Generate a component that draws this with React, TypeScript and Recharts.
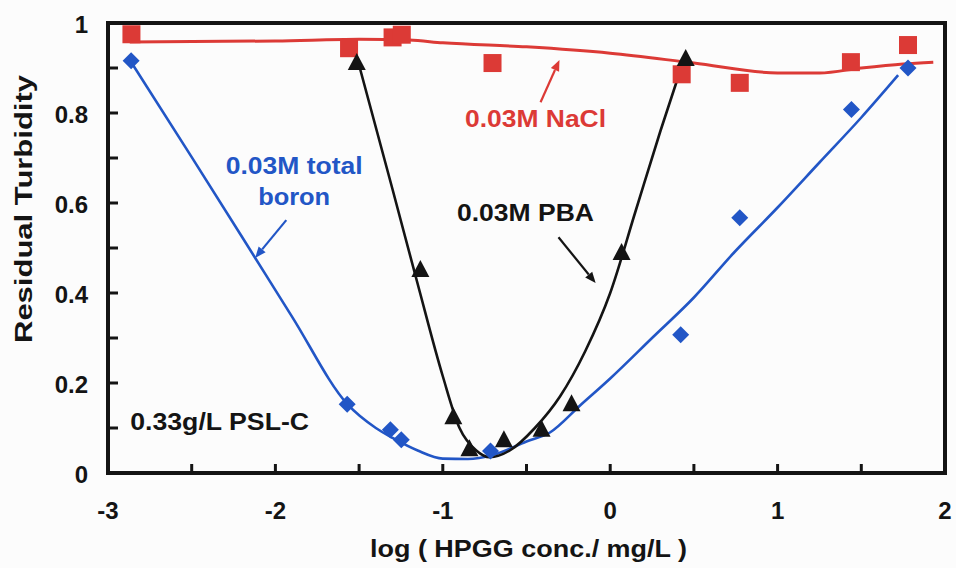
import React from 'react';
import { ComposedChart, Line, Scatter, XAxis, YAxis, ReferenceLine, ReferenceDot, ReferenceArea, Label } from 'recharts';

const FONT = '"Liberation Sans", Arial, Helvetica, sans-serif';
const RED = '#dc3a36';
const BLUE = '#2256c6';
const INK = '#141414';

// measured points (log conc vs residual turbidity)
const naclX = [-2.86, -1.56, -1.3, -1.245, -0.703, 0.427, 0.774, 1.438, 1.779];
const naclY = [0.975, 0.944, 0.968, 0.974, 0.911, 0.886, 0.867, 0.913, 0.951];

const boronX = [-2.862, -1.571, -1.313, -1.248, -0.715, 0.421, 0.774, 1.441, 1.779];
const boronY = [0.916, 0.153, 0.096, 0.074, 0.049, 0.307, 0.567, 0.808, 0.9];

const pbaX = [-1.514, -1.134, -0.937, -0.841, -0.635, -0.41, -0.231, 0.068, 0.451];
const pbaY = [0.911, 0.451, 0.124, 0.053, 0.073, 0.096, 0.153, 0.489, 0.92];

// fitted curves
const naclFitX = [-2.87, -2.0, -1.5, -1.2, -1.0, -0.5, 0, 0.5, 1.0, 1.25, 1.5, 1.75, 1.93];
const naclFitY = [0.958, 0.96, 0.964, 0.962, 0.956, 0.947, 0.933, 0.911, 0.889, 0.889, 0.9, 0.909, 0.913];

const boronFitX = [-2.87, -2.5, -2.2, -1.9, -1.57, -1.4, -1.3, -1.15, -1.0, -0.85, -0.7, -0.5, -0.36, -0.18, 0, 0.25, 0.5, 0.74, 1.0, 1.25, 1.5, 1.72];
const boronFitY = [0.918, 0.702, 0.525, 0.347, 0.153, 0.1, 0.078, 0.05, 0.032, 0.031, 0.04, 0.07, 0.09, 0.15, 0.21, 0.3, 0.39, 0.49, 0.59, 0.69, 0.79, 0.884];

const pbaFitX = [-1.51, -1.3, -1.15, -1.0, -0.9, -0.8, -0.72, -0.6, -0.45, -0.3, -0.15, 0, 0.15, 0.3, 0.45];
const pbaFitY = [0.92, 0.63, 0.42, 0.215, 0.1, 0.05, 0.035, 0.05, 0.1, 0.17, 0.27, 0.4, 0.58, 0.76, 0.93];

const xTicks = [-3, -2.5, -2, -1.5, -1, -0.5, 0, 0.5, 1, 1.5, 2];
const yTicks = [0, 0.1, 0.2, 0.3, 0.4, 0.5, 0.6, 0.7, 0.8, 0.9, 1];

const zip = (xs: number[], ys: number[]) => xs.map((x, i) => ({ x, y: ys[i] }));

const naclPts = zip(naclX, naclY);
const boronPts = zip(boronX, boronY);
const pbaPts = zip(pbaX, pbaY);
const naclFit = zip(naclFitX, naclFitY);
const boronFit = zip(boronFitX, boronFitY);
const pbaFit = zip(pbaFitX, pbaFitY);

// annotation text and arrows (data coords)
const notes = [
  { text: '0.03M NaCl', x: -0.446, y: 0.787, color: RED, len: 141 },
  { text: '0.03M total', x: -1.888, y: 0.682, color: BLUE, len: 137 },
  { text: 'boron', x: -1.888, y: 0.613, color: BLUE, len: 72 },
  { text: '0.03M PBA', x: -0.506, y: 0.578, color: INK, len: 137 },
  { text: '0.33g/L PSL-C', x: -2.333, y: 0.113, color: INK, len: 179 },
];
const arrows = [
  { from: [-0.416, 0.824], to: [-0.303, 0.918], color: RED },
  { from: [-1.935, 0.562], to: [-2.121, 0.478], color: BLUE },
  { from: [-0.309, 0.524], to: [-0.087, 0.422], color: INK },
];

const Square = (p: any) => <rect x={p.cx - 9} y={p.cy - 9} width={18} height={18} fill={RED} />;
const Diamond = (p: any) => (
  <polygon points={`${p.cx},${p.cy - 8.5} ${p.cx + 8.5},${p.cy} ${p.cx},${p.cy + 8.5} ${p.cx - 8.5},${p.cy}`} fill={BLUE} />
);
const Triangle = (p: any) => (
  <polygon points={`${p.cx},${p.cy - 10} ${p.cx + 9},${p.cy + 7} ${p.cx - 9},${p.cy + 7}`} fill={INK} />
);

const XTick = (p: any) => {
  const v = p.payload.value;
  return (
    <g>
      <line x1={p.x} y1={p.y} x2={p.x} y2={p.y - 9} stroke={INK} strokeWidth={3} />
      {Number.isInteger(v) && (
        <text x={p.x} y={p.y + 46} textAnchor="middle" fontFamily={FONT} fontWeight="bold" fontSize={24} fill={INK}>
          {String(v)}
        </text>
      )}
    </g>
  );
};

const YTick = (p: any) => {
  const v = p.payload.value;
  const major = Math.round(v * 10) % 2 === 0;
  return (
    <g>
      <line x1={p.x} y1={p.y} x2={p.x + 10} y2={p.y} stroke={INK} strokeWidth={3} />
      {major && (
        <text x={p.x - 20} y={p.y + 10} textAnchor="end" fontFamily={FONT} fontWeight="bold" fontSize={24} fill={INK}>
          {String(v)}
        </text>
      )}
    </g>
  );
};

const arrowShape = (color: string) => (p: any) => {
  const { x1, y1, x2, y2 } = p;
  const a = Math.atan2(y2 - y1, x2 - x1);
  const L = 11;
  const W = 4.5;
  const bx = x2 - L * Math.cos(a);
  const by = y2 - L * Math.sin(a);
  const px = -Math.sin(a) * W;
  const py = Math.cos(a) * W;
  return (
    <g>
      <line x1={x1} y1={y1} x2={bx} y2={by} stroke={color} strokeWidth={2.2} />
      <polygon points={`${x2},${y2} ${bx + px},${by + py} ${bx - px},${by - py}`} fill={color} />
    </g>
  );
};

const FrameBox = (p: any) => (
  <rect x={p.x} y={p.y} width={p.width} height={p.height} fill="none" stroke={INK} strokeWidth={4} />
);

export default function App() {
  return (
    <div style={{ position: 'absolute', left: 0, top: 0, width: 956, height: 568, background: '#fcfcfc' }}>
      <ComposedChart width={956} height={568} margin={{ top: 23, right: 11, bottom: 0, left: 0 }}>
        <XAxis
          dataKey="x"
          type="number"
          domain={[-3, 2]}
          ticks={xTicks}
          height={95}
          axisLine={false}
          tickLine={false}
          tickSize={0}
          tickMargin={0}
          tick={<XTick />}
          interval={0}
        >
          <Label
            content={(lp: any) => (
              <text
                x={lp.viewBox.x + lp.viewBox.width / 2 + 2}
                y={lp.viewBox.y + 84}
                textAnchor="middle"
                fontFamily={FONT}
                fontWeight="bold"
                fontSize={23}
                fill={INK}
                textLength={317}
                lengthAdjust="spacingAndGlyphs"
              >
                log ( HPGG conc./ mg/L )
              </text>
            )}
          />
        </XAxis>
        <YAxis
          dataKey="y"
          type="number"
          domain={[0, 1]}
          ticks={yTicks}
          width={108}
          axisLine={false}
          tickLine={false}
          tickSize={0}
          tickMargin={0}
          tick={<YTick />}
          interval={0}
        >
          <Label
            content={() => (
              <text
                transform="translate(32,209) rotate(-90)"
                textAnchor="middle"
                fontFamily={FONT}
                fontWeight="bold"
                fontSize={24}
                fill={INK}
                textLength={268}
                lengthAdjust="spacingAndGlyphs"
              >
                Residual Turbidity
              </text>
            )}
          />
        </YAxis>

        <ReferenceArea x1={-3} x2={2} y1={0} y2={1} ifOverflow="visible" shape={FrameBox} />

        <Line data={naclFit} dataKey="y" type="monotone" stroke={RED} strokeWidth={3} dot={false} isAnimationActive={false} />
        <Line data={boronFit} dataKey="y" type="monotone" stroke={BLUE} strokeWidth={2.6} dot={false} isAnimationActive={false} />
        <Line data={pbaFit} dataKey="y" type="monotone" stroke={INK} strokeWidth={2.6} dot={false} isAnimationActive={false} />

        <Scatter data={naclPts} dataKey="y" shape={Square} isAnimationActive={false} />
        <Scatter data={boronPts} dataKey="y" shape={Diamond} isAnimationActive={false} />
        <Scatter data={pbaPts} dataKey="y" shape={Triangle} isAnimationActive={false} />

        {arrows.map((a, i) => (
          <ReferenceLine
            key={'a' + i}
            segment={[{ x: a.from[0], y: a.from[1] }, { x: a.to[0], y: a.to[1] }]}
            shape={arrowShape(a.color)}
          />
        ))}
        {notes.map((n, i) => (
          <ReferenceDot
            key={'n' + i}
            x={n.x}
            y={n.y}
            r={0}
            shape={(p: any) => (
              <text
                x={p.cx}
                y={p.cy + 8}
                textAnchor="middle"
                fontFamily={FONT}
                fontWeight="bold"
                fontSize={23}
                fill={n.color}
                textLength={n.len}
                lengthAdjust="spacingAndGlyphs"
              >
                {n.text}
              </text>
            )}
          />
        ))}
      </ComposedChart>
    </div>
  );
}
